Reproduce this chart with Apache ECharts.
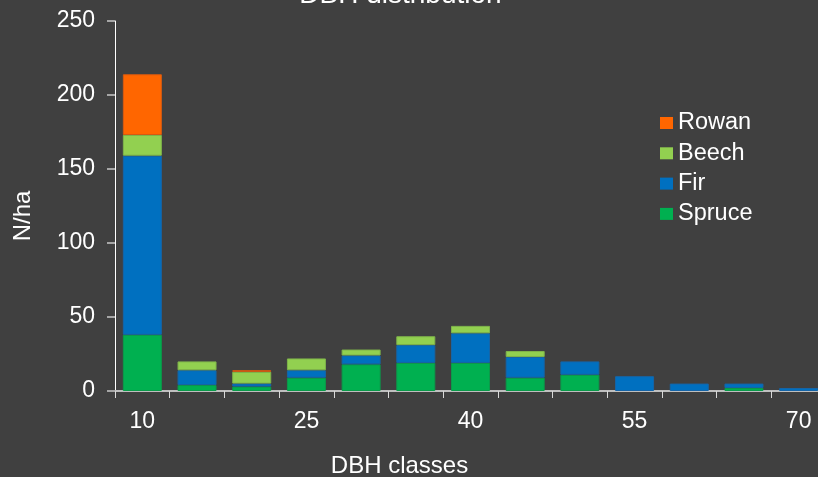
<!DOCTYPE html>
<html>
<head>
<meta charset="utf-8">
<script src="https://cdn.jsdelivr.net/npm/echarts@6/dist/echarts.min.js"></script>
<style>
html,body{margin:0;padding:0;background:#404040;overflow:hidden;}
#c{width:818px;height:477px;}
</style>
</head>
<body>
<div id="c"></div>
<script>
const categories = ['10','15','20','25','30','35','40','45','50','55','60','65','70'];
const spruce = [38, 4, 3, 9, 18, 19, 19, 9, 11, 0, 0, 2, 0];
const fir    = [121, 10, 2, 5, 6, 12, 20, 14, 9, 10, 5, 3, 2];
const beech  = [14, 6, 8, 8, 4, 6, 5, 4, 0, 0, 0, 0, 0];
const rowan  = [41, 0, 1, 0, 0, 0, 0, 0, 0, 0, 0, 0, 0];
const yTicks = [0, 50, 100, 150, 200, 250];

const font = 'Liberation Sans, Arial, sans-serif';
const chart = echarts.init(document.getElementById('c'), null, {renderer:'canvas', width:818, height:477});
function s(name, data, color, border) {
  return {
    name, type:'bar', stack:'a',
    data: data.map(v => v === 0 ? '-' : v),
    barWidth:39,
    itemStyle:{color, borderColor:border, borderWidth:1},
    emphasis:{disabled:true}
  };
}
chart.setOption({
  backgroundColor:'#404040',
  animation:false,
  title:{
    text:'DBH distribution', left:395.5, textAlign:'center', top:-24,
    textStyle:{color:'#ffffff', fontFamily:font, fontWeight:'normal', fontSize:28}
  },
  legend:{
    data:['Rowan','Beech','Fir','Spruce'],
    orient:'vertical', left:655, top:106, itemGap:6.3,
    itemWidth:13, itemHeight:12, icon:'rect',
    itemStyle:{borderWidth:0},
    textStyle:{color:'#ffffff', fontFamily:font, fontSize:23.5, lineHeight:24}
  },
  grid:{left:115, top:21, width:711, height:370, containLabel:false, outerBoundsMode:'none'},
  xAxis:{
    type:'category', data:categories,
    name:'DBH classes', nameLocation:'middle', nameGap:63,
    nameTextStyle:{color:'#ffffff', fontFamily:font, fontSize:24, padding:[0,142,0,0]},
    axisLine:{lineStyle:{color:'#bfbfbf', width:2}},
    axisTick:{show:true, interval:0, length:7, lineStyle:{color:'#d9d9d9'}},
    axisLabel:{interval:2, color:'#ffffff', fontFamily:font, fontSize:23, margin:19}
  },
  yAxis:{
    type:'value', min:yTicks[0], max:yTicks[yTicks.length-1], interval:yTicks[1]-yTicks[0],
    name:'N/ha', nameLocation:'middle', nameGap:80, nameRotate:90,
    nameTextStyle:{color:'#ffffff', fontFamily:font, fontSize:24, padding:[0,20,0,0]},
    axisLine:{show:true, lineStyle:{color:'#ffffff', width:1}},
    axisTick:{show:true, length:8, lineStyle:{color:'#a6a6a6', width:2}},
    axisLabel:{color:'#ffffff', fontFamily:font, fontSize:23, margin:20},
    splitLine:{show:false}
  },
  series:[
    s('Spruce', spruce, '#00B050', '#0a9a4a'),
    s('Fir', fir, '#0070C0', '#1565a8'),
    s('Beech', beech, '#92D050', '#7fb54a'),
    s('Rowan', rowan, '#FF6600', '#d95a10')
  ]
});
</script>
</body>
</html>
